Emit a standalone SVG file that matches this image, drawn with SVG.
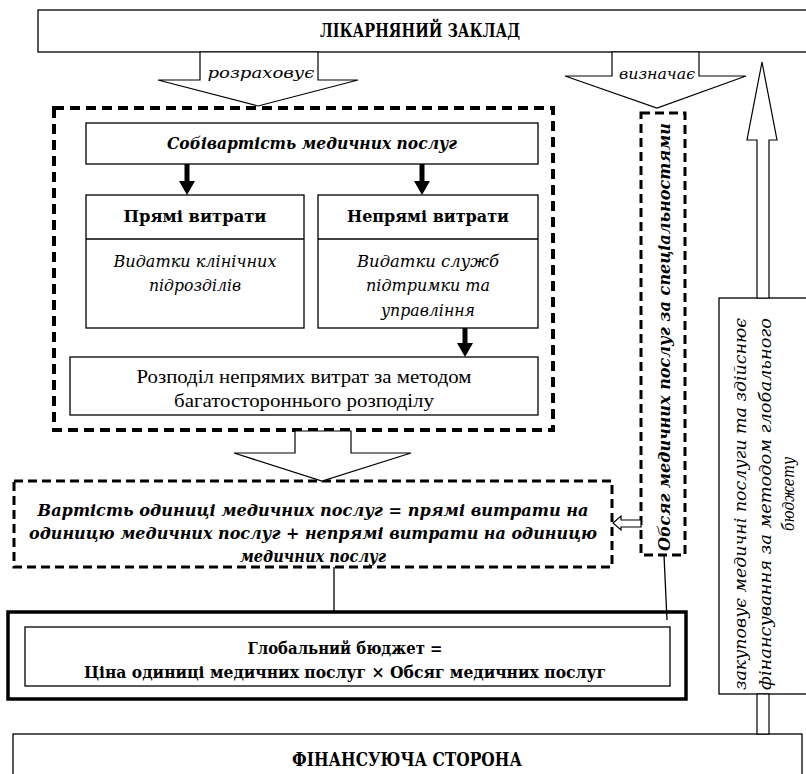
<svg xmlns="http://www.w3.org/2000/svg" width="806" height="774" viewBox="0 0 806 774">
  <style>
    .box { fill: #fff; stroke: #000; stroke-width: 1.3; }
    .dash4 { fill: none; stroke: #000; stroke-width: 4; stroke-dasharray: 10 6; }
    .dash3 { fill: none; stroke: #000; stroke-width: 3; stroke-dasharray: 9 5; }
    .blk { fill: #fff; stroke: #000; stroke-width: 1.2; stroke-linejoin: miter; }
    .ln { fill: none; stroke: #000; stroke-width: 1.3; }
    .thick { fill: none; stroke: #000; stroke-width: 5; }
    text { font-family: 'Liberation Serif', serif; fill: #000; text-anchor: middle; }
    .b { font-family: 'DejaVu Serif', serif; font-weight: bold; }
    .i { font-family: 'DejaVu Serif', serif; font-style: italic; }
  </style>

  <!-- hospital -->
  <g id="hospital">
    <rect class="box" x="38" y="10" width="790" height="42"/>
    <text class="b" x="420" y="37" font-size="18" textLength="200" lengthAdjust="spacingAndGlyphs">ЛІКАРНЯНИЙ ЗАКЛАД</text>
  </g>

  <!-- cost calculation block -->
  <g id="cost-block">
    <rect class="dash4" x="54" y="108" width="499" height="322"/>
  </g>

  <g id="cost">
    <rect class="box" x="86" y="123" width="452" height="41"/>
    <text class="b i" x="312" y="149" font-size="17" textLength="290" lengthAdjust="spacingAndGlyphs">Собівартість медичних послуг</text>
  </g>

  <g id="direct">
    <rect class="box" x="86" y="195" width="218" height="133"/>
    <line class="ln" x1="86" y1="239" x2="304" y2="239"/>
    <text class="b" x="195" y="222" font-size="17" textLength="143" lengthAdjust="spacingAndGlyphs">Прямі витрати</text>
    <text class="i" x="195" y="267" font-size="16" textLength="163" lengthAdjust="spacingAndGlyphs">Видатки клінічних</text>
    <text class="i" x="195" y="291" font-size="16" textLength="92" lengthAdjust="spacingAndGlyphs">підрозділів</text>
  </g>

  <g id="indirect">
    <rect class="box" x="318" y="195" width="220" height="133"/>
    <line class="ln" x1="318" y1="239" x2="538" y2="239"/>
    <text class="b" x="428" y="222" font-size="17" textLength="162" lengthAdjust="spacingAndGlyphs">Непрямі витрати</text>
    <text class="i" x="428" y="267" font-size="16" textLength="142" lengthAdjust="spacingAndGlyphs">Видатки служб</text>
    <text class="i" x="428" y="291" font-size="16" textLength="124" lengthAdjust="spacingAndGlyphs">підтримки та</text>
    <text class="i" x="428" y="316" font-size="16" textLength="94" lengthAdjust="spacingAndGlyphs">управління</text>
  </g>

  <g id="allocation">
    <rect class="box" x="70" y="357" width="468" height="58"/>
    <text x="304" y="383" font-size="18" textLength="335" lengthAdjust="spacingAndGlyphs">Розподіл непрямих витрат за методом</text>
    <text x="304" y="407" font-size="18" textLength="260" lengthAdjust="spacingAndGlyphs">багатостороннього розподілу</text>
  </g>

  <g id="unit-cost">
    <rect class="dash3" x="14" y="481" width="598" height="86"/>
    <text class="b i" x="313" y="516" font-size="17" textLength="551" lengthAdjust="spacingAndGlyphs">Вартість одиниці медичних послуг = прямі витрати на</text>
    <text class="b i" x="313" y="539" font-size="17" textLength="568" lengthAdjust="spacingAndGlyphs">одиницю медичних послуг + непрямі витрати на одиницю</text>
    <text class="b i" x="313" y="562" font-size="17" textLength="146" lengthAdjust="spacingAndGlyphs">медичних послуг</text>
  </g>

  <g id="volume">
    <rect class="dash3" x="641" y="113" width="44" height="442"/>
    <text class="b i" transform="translate(670,337) rotate(-90)" x="0" y="0" font-size="17" textLength="428" lengthAdjust="spacingAndGlyphs">Обсяг  медичних  послуг за спеціальностями</text>
  </g>

  <g id="global-budget">
    <rect x="8" y="612" width="678" height="87" fill="#fff" stroke="#000" stroke-width="3.5"/>
    <rect class="box" x="25" y="627" width="645" height="59"/>
    <text class="b" x="345" y="654" font-size="17" textLength="195" lengthAdjust="spacingAndGlyphs">Глобальний бюджет  =</text>
    <text class="b" x="345" y="678" font-size="17" textLength="522" lengthAdjust="spacingAndGlyphs">Ціна одиниці медичних послуг × Обсяг медичних послуг</text>
  </g>

  <g id="purchase">
    <rect class="box" x="719" y="298" width="100" height="396"/>
    <text class="i" transform="translate(746,504) rotate(-90)" x="0" y="0" font-size="16" textLength="372" lengthAdjust="spacingAndGlyphs">закуповує медичні послуги та здійснює</text>
    <text class="i" transform="translate(771,504) rotate(-90)" x="0" y="0" font-size="16" textLength="372" lengthAdjust="spacingAndGlyphs">фінансування  за  методом  глобального</text>
    <text class="i" transform="translate(794,494) rotate(-90)" x="0" y="0" font-size="16" textLength="74" lengthAdjust="spacingAndGlyphs">бюджету</text>
  </g>

  <g id="funder">
    <rect class="box" x="13" y="734" width="789" height="60"/>
    <text class="b" x="407" y="766" font-size="18" textLength="230" lengthAdjust="spacingAndGlyphs">ФІНАНСУЮЧА СТОРОНА</text>
  </g>

  <!-- connectors -->
  <g id="connectors">
    <!-- "calculates" block arrow -->
    <polygon class="blk" points="200,52 318,52 318,80 358,80 258,106 158,80 200,80"/>
    <text class="i" x="261" y="78" font-size="15" textLength="107" lengthAdjust="spacingAndGlyphs">розраховує</text>
    <!-- "determines" block arrow -->
    <polygon class="blk" points="612,52 699,52 699,76 746,76 657,108 565,76 612,76"/>
    <text class="i" x="657" y="79" font-size="15" textLength="76" lengthAdjust="spacingAndGlyphs">визначає</text>
    <!-- upward arrow to hospital -->
    <polygon class="blk" points="762,62 777,140 769,140 769,298 757,298 757,140 747,140"/>
    <rect class="blk" x="757" y="694" width="12" height="40"/>
    <!-- cost to breakdown -->
    <line class="thick" x1="187" y1="164" x2="187" y2="183"/>
    <polygon points="179,181 195,181 187,195" fill="#000"/>
    <line class="thick" x1="422" y1="164" x2="422" y2="183"/>
    <polygon points="414,181 430,181 422,195" fill="#000"/>
    <line class="thick" x1="465" y1="328" x2="465" y2="345"/>
    <polygon points="457,343 473,343 465,357" fill="#000"/>
    <!-- block to unit cost -->
    <polygon class="blk" points="295,431 351,431 351,453 411,453 322,481 234,453 295,453"/>
    <!-- volume to unit cost -->
    <polygon class="blk" points="613,523 621,516 621,520 641,520 641,527 621,527 621,530"/>
    <!-- links into global budget -->
    <line class="ln" x1="334" y1="567" x2="334" y2="612"/>
    <line class="ln" x1="664" y1="555" x2="667" y2="620"/>
  </g>
</svg>
